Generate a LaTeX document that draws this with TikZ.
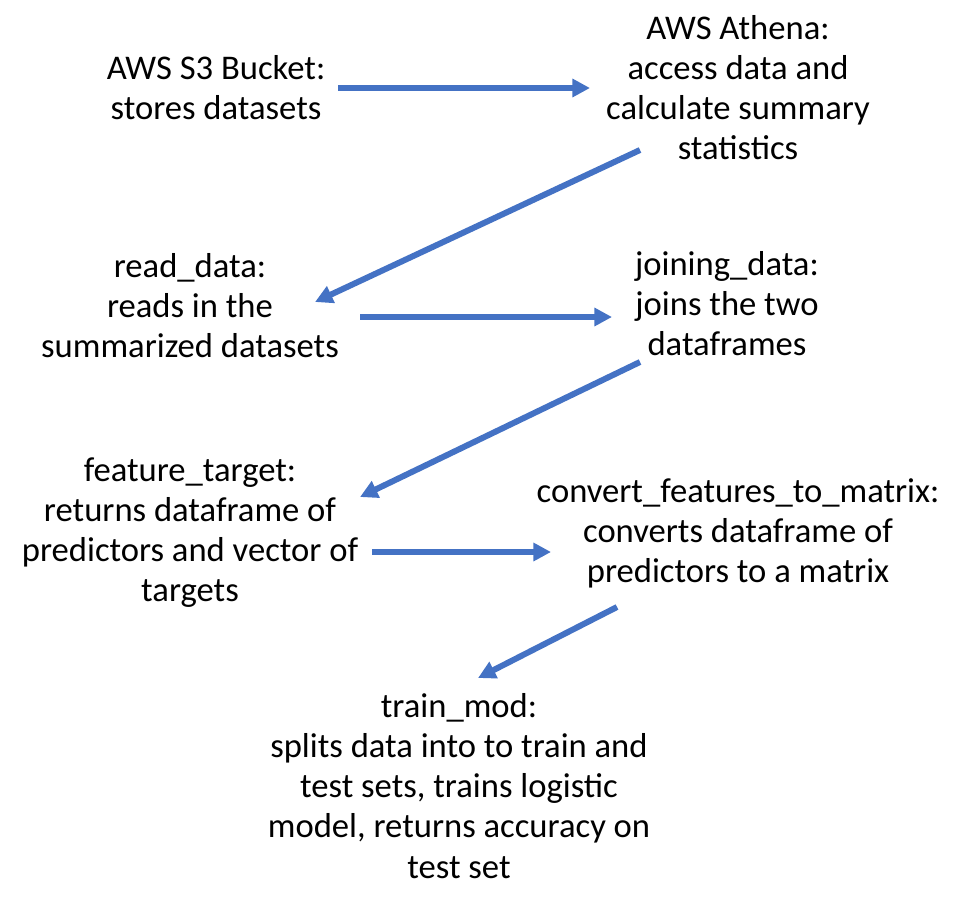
\documentclass[tikz,border=0pt]{standalone}
\usepackage{fontspec}
\setmainfont{Carlito}
\usetikzlibrary{arrows.meta, calc}

\definecolor{flowblue}{HTML}{4472C4}

\tikzset{
    step box/.style={align=center, inner sep=0pt, font=\fontsize{19.7pt}{22.8pt}\selectfont},
    flow/.style={flowblue, line width=3.4pt, -{Triangle[length=10pt, width=10pt]}}
}

\begin{document}
\begin{tikzpicture}[x=0.02cm, y=-0.02cm]
    % Canvas (pixel units)
    \useasboundingbox (0,0) rectangle (962,906);

    % First row
    \node[step box] (s3) at (216,88) {AWS S3 Bucket:\\stores datasets};
    \node[step box] (athena) at (738,88) {AWS Athena:\\access data and\\calculate summary\\statistics};

    % Second row
    \node[step box] (read) at (190,306) {read\_data:\\reads in the\\summarized datasets};
    \node[step box] (joining) at (727,304) {joining\_data:\\joins the two\\dataframes};

    % Third row
    \node[step box] (feature) at (190,533) {feature\_target:\\returns dataframe of\\predictors and vector of\\targets};
    \node[step box] (convert) at (738,533) {convert\_features\_to\_matrix:\\converts dataframe of\\predictors to a matrix};

    % Last step
    \node[step box] (train) at (459,786) {train\_mod:\\splits data into to train and\\test sets, trains logistic\\model, returns accuracy on\\test set};

    % Arrows between the steps
    \draw[flow] ($(s3)+(122,0)$) -- ($(athena)+(-148,0)$);
    \draw[flow] ($(athena)+(-98,62)$) -- ($(read)+(125,-4)$);
    \draw[flow] ($(read)+(170,11)$) -- ($(joining)+(-115,13)$);
    \draw[flow] ($(joining)+(-87,58)$) -- ($(feature)+(170,-36)$);
    \draw[flow] ($(feature)+(182,19)$) -- ($(convert)+(-187,19)$);
    \draw[flow] ($(convert)+(-121,74)$) -- ($(train)+(19,-108)$);
\end{tikzpicture}
\end{document}
